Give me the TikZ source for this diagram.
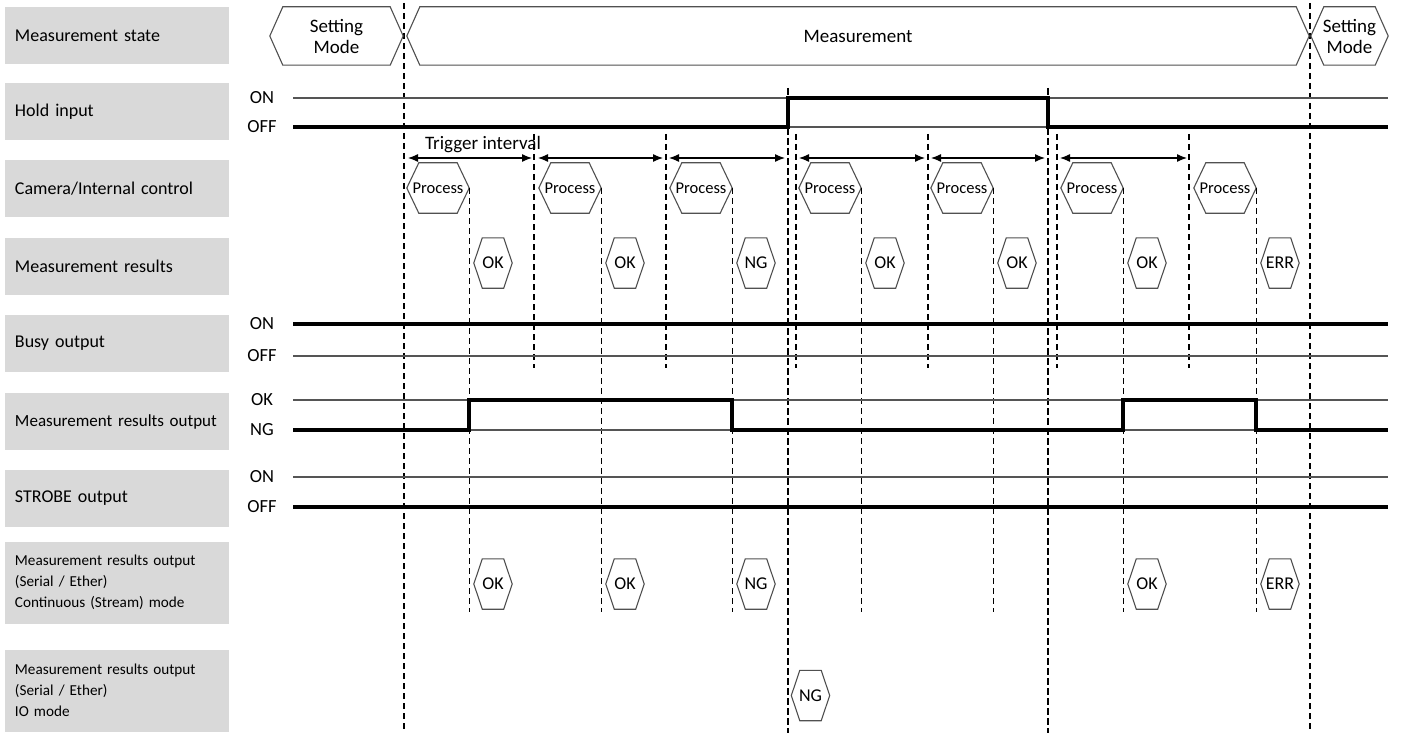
\documentclass[tikz,border=0pt]{standalone}
\usepackage{fontspec}
\setmainfont{Carlito}
\usepackage{xcolor}
\usepackage{tikz}
\usetikzlibrary{positioning,arrows.meta}
\definecolor{boxgray}{RGB}{217,217,217}
\definecolor{refgray}{RGB}{85,85,85}
\definecolor{hexgray}{RGB}{80,80,80}
\newcommand{\hexframe}[2]{%
  \draw[hexline] (#1.west) -- ([xshift=#2]#1.north west) -- ([xshift=-#2]#1.north east)
    -- (#1.east) -- ([xshift=-#2]#1.south east) -- ([xshift=#2]#1.south west) -- cycle;}

\begin{document}
\begin{tikzpicture}[x=1pt, y=-1pt,
    rowbox/.style={fill=boxgray, minimum width=224pt, minimum height=57pt,
                   text width=204pt, inner xsep=10pt, inner ysep=0pt, align=left,
                   font=\fontsize{18}{21}\selectfont},
    tallbox/.style={rowbox, minimum height=82pt, font=\fontsize{15.2}{21}\selectfont},
    lvl/.style={inner sep=0pt, font=\fontsize{18.5}{20}\selectfont},
    hexa/.style={inner sep=0pt, minimum height=50pt},
    proc/.style={hexa, minimum width=62pt, font=\fontsize{16.5}{18}\selectfont},
    res/.style={hexa, minimum width=38pt, font=\fontsize{18}{20}\selectfont},
    modehex/.style={hexa, minimum height=58pt, align=center, font=\fontsize{19}{21}\selectfont},
    hexline/.style={draw=hexgray, line width=1.1pt, line join=miter},
    refline/.style={refgray, line width=1.2pt},
    sigline/.style={black, line width=3.5pt},
    markline/.style={black, line width=1.1pt, dash pattern=on 6pt off 4pt},
    holdline/.style={black, line width=2.5pt, dash pattern=on 7pt off 3pt},
    trig/.style={{Latex[length=10pt,width=8pt]}-{Latex[length=10pt,width=8pt]}, line width=1.2pt},
]
  \useasboundingbox (0,0) rectangle (1401,733);

  % row labels
  \node[rowbox] (lstate) at (117,36) {Measurement state};
  \node[rowbox] (lhold) at (117,112) {Hold input};
  \node[rowbox] (lcam) at (117,188.5) {Camera/Internal control};
  \node[rowbox] (lres) at (117,266.5) {Measurement results};
  \node[rowbox] (lbusy) at (117,343.5) {Busy output};
  \node[rowbox, font=\fontsize{17}{21}\selectfont] (lout) at (117,421.5) {\mbox{Measurement results output}};
  \node[rowbox] (lstrobe) at (117,498.5) {STROBE output};
  \node[tallbox] (lstream) at (117,582.5) {Measurement results output\\(Serial / Ether)\\Continuous (Stream) mode};
  \node[tallbox] (lio) at (117,690.5) {Measurement results output\\(Serial / Ether)\\IO mode};

  % levels
  \node[lvl] (hon) at (262,98) {ON};
  \node[lvl] (hoff) at (262,127) {OFF};
  \node[lvl] (bon) at (262,324) {ON};
  \node[lvl] (boff) at (262,356) {OFF};
  \node[lvl] (ook) at (262,400) {OK};
  \node[lvl] (ong) at (262,430) {NG};
  \node[lvl] (son) at (262,477) {ON};
  \node[lvl] (soff) at (262,507) {OFF};

  % timing marks
  \draw[markline] (404,3) -- (404,733);
  \draw[markline] (1310,3) -- (1310,733);
  \draw[markline] (534,134) -- (534,368);
  \draw[markline] (666,134) -- (666,368);
  \draw[markline] (796,134) -- (796,368);
  \draw[markline] (928,134) -- (928,368);
  \draw[markline] (1057,134) -- (1057,368);
  \draw[markline] (1189,134) -- (1189,368);
  \draw[holdline] (788,88) -- (788,733);
  \draw[holdline] (1048,88) -- (1048,733);

  % measurement state
  \node[modehex, minimum width=133pt] (m1) at (336.5,36) {Setting\\Mode};
  \node[modehex, minimum width=902pt] (m2) at (858,36) {Measurement};
  \node[modehex, minimum width=77pt] (m3) at (1349.5,36) {Setting\\Mode};
  \foreach \n in {m1,m2,m3} {\hexframe{\n}{13pt}}

  % hold input
  \draw[refline] (293,98) -- (1388,98);
  \draw[refline] (788,127) -- (1048,127);
  \draw[sigline] (293,127) -- (788,127) -- (788,98) -- (1048,98) -- (1048,127) -- (1388,127);

  % trigger interval
  \coordinate (t1) at (404,158);
  \coordinate (t2) at (534,158);
  \coordinate (t3) at (666,158);
  \coordinate (h1) at (788,158);
  \coordinate (t4) at (796,158);
  \coordinate (t5) at (928,158);
  \coordinate (h2) at (1048,158);
  \coordinate (t6) at (1057,158);
  \coordinate (t7) at (1189,158);
  \node[font=\fontsize{19}{20}\selectfont, inner sep=0pt] (tint) at (483,145) {Trigger interval};
  \draw[trig] ([xshift=4pt]t1) -- ([xshift=-2pt]t2);
  \draw[trig] ([xshift=4pt]t2) -- ([xshift=-3pt]t3);
  \draw[trig] ([xshift=3pt]t3) -- ([xshift=-3pt]h1);
  \draw[trig] ([xshift=3pt]t4) -- ([xshift=-3pt]t5);
  \draw[trig] ([xshift=3pt]t5) -- ([xshift=-3pt]h2);
  \draw[trig] ([xshift=3pt]t6) -- ([xshift=-2pt]t7);

  % camera / internal control
  \node[proc] (p1) at (438,188) {Process};
  \node[proc] (p2) at (570,188) {Process};
  \node[proc] (p3) at (701,188) {Process};
  \node[proc] (p4) at (830,188) {Process};
  \node[proc] (p5) at (962,188) {Process};
  \node[proc] (p6) at (1092,188) {Process};
  \node[proc] (p7) at (1225,188) {Process};
  \foreach \n in {p1,p2,p3,p4,p5,p6,p7} {
    \hexframe{\n}{12pt}
    \draw[markline] (\n.east) -- (\n.east |- 0,612);
  }

  % measurement results
  \node[res] (r1) at (493,263) {OK};
  \node[res] (r2) at (625,263) {OK};
  \node[res] (r3) at (756,263) {NG};
  \node[res] (r4) at (885,263) {OK};
  \node[res] (r5) at (1017,263) {OK};
  \node[res] (r6) at (1147,263) {OK};
  \node[res] (r7) at (1280,263) {ERR};

  % busy output
  \draw[refline] (293,356) -- (1388,356);
  \draw[sigline] (293,324) -- (1388,324);

  % measurement results output
  \draw[refline] (293,400) -- (1388,400);
  \draw[refline] (293,430) -- (1388,430);
  \draw[sigline] (293,430) -- (469,430) -- (469,400) -- (732,400) -- (732,430)
    -- (1123,430) -- (1123,400) -- (1256,400) -- (1256,430) -- (1388,430);

  % strobe output
  \draw[refline] (293,477) -- (1388,477);
  \draw[sigline] (293,507) -- (1388,507);

  % serial / ether
  \node[res] (c1) at (493,584) {OK};
  \node[res] (c2) at (625,584) {OK};
  \node[res] (c3) at (756,584) {NG};
  \node[res] (c4) at (1147,584) {OK};
  \node[res] (c5) at (1280,584) {ERR};
  \node[res] (n1) at (810.5,695.5) {NG};
  \foreach \n in {r1,r2,r3,r4,r5,r6,r7,c1,c2,c3,c4,c5,n1} {\hexframe{\n}{8.5pt}}
\end{tikzpicture}
\end{document}
